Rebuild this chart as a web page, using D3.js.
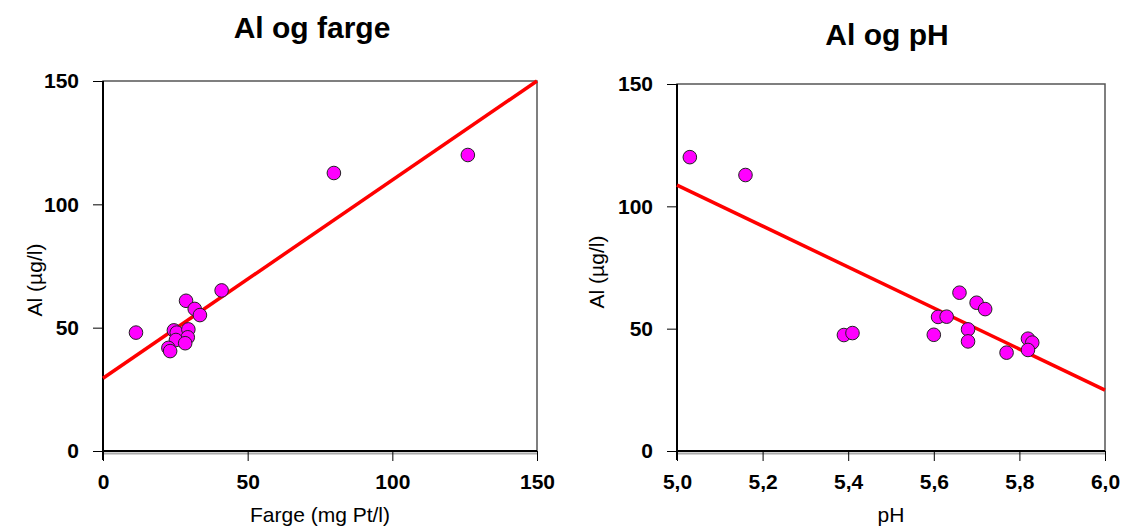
<!DOCTYPE html>
<html>
<head>
<meta charset="utf-8">
<script src="https://d3js.org/d3.v7.min.js"></script>
<style>
  body { margin: 0; background: #fff; }
  text { font-family: Arial, "Liberation Sans", sans-serif; }
</style>
</head>
<body>
<script>
  var width = 1124;
  var height = 527;

  // Al og farge
  var fargeX  = [11.4, 28.7, 31.7, 33.5, 41.0, 24.5, 25.5, 29.5, 29.3, 25.2, 28.4, 22.6, 23.2, 79.8, 126.1];
  var fargeAl = [48.0, 60.9, 57.6, 55.1, 65.1, 48.9, 48.0, 49.3, 46.1, 45.0, 43.7, 41.8, 40.5, 112.7, 120.0];
  var fargeFit = [29.5, 150];          // Al at farge = 0 and 150
  var fargeTicks = [0, 50, 100, 150];

  // Al og pH
  var phX  = [5.03, 5.16, 5.39, 5.41, 5.60, 5.61, 5.63, 5.66, 5.68, 5.68, 5.70, 5.72, 5.77, 5.82, 5.83, 5.82];
  var phAl = [120.1, 112.8, 47.4, 48.2, 47.5, 54.8, 54.9, 64.7, 49.7, 44.8, 60.6, 58.0, 40.2, 45.9, 44.3, 41.3];
  var phFit = [108.7, 24.9];           // Al at pH = 5.0 and 6.0
  var phTicks = [5.0, 5.2, 5.4, 5.6, 5.8, 6.0];

  var alTicks = [0, 50, 100, 150];

  var comma = d3.formatLocale({decimal: ",", thousands: " ", grouping: [3], currency: ["", ""]}).format(".1f");

  var svg = d3.select("body").append("svg")
      .attr("width", width)
      .attr("height", height);

  function panel(opt) {
    var x = d3.scaleLinear().domain(opt.xDomain).range([opt.left, opt.right]);
    var y = d3.scaleLinear().domain([0, 150]).range([opt.bottom, opt.top]);
    var g = svg.append("g");

    // frame
    g.append("rect")
        .attr("x", opt.left).attr("y", opt.top)
        .attr("width", opt.right - opt.left).attr("height", opt.bottom - opt.top)
        .style("fill", "none").style("stroke", "#555").style("stroke-width", 1.5);
    // bottom shadow
    g.append("line")
        .attr("x1", opt.left).attr("x2", opt.right)
        .attr("y1", opt.bottom + 2.5).attr("y2", opt.bottom + 2.5)
        .style("stroke", "#aaa").style("stroke-width", 2);

    var yAxis = g.append("g")
        .attr("transform", "translate(" + opt.left + ",0)")
        .call(d3.axisLeft(y).tickValues(alTicks).tickSize(10).tickPadding(14).tickFormat(d3.format("d")));
    var xAxis = g.append("g")
        .attr("transform", "translate(0," + opt.bottom + ")")
        .call(d3.axisBottom(x).tickValues(opt.xTicks).tickSize(10).tickPadding(13).tickFormat(opt.fmt));
    [yAxis, xAxis].forEach(function (a) {
      a.select(".domain").style("stroke", "#000").style("stroke-width", 2);
      a.selectAll(".tick line").style("stroke", "#000").style("stroke-width", 1);
      a.selectAll(".tick text")
          .style("font-family", "Arial, 'Liberation Sans', sans-serif")
          .style("font-size", "21px").style("font-weight", "bold").style("fill", "#000");
    });
    xAxis.select(".domain").attr("d", "M" + opt.left + ",0H" + opt.right);
    yAxis.select(".domain").attr("d", "M0," + (opt.bottom + 9) + "V" + opt.top);

    // fit line
    g.append("line")
        .attr("x1", x(opt.xDomain[0])).attr("y1", y(opt.fit[0]))
        .attr("x2", x(opt.xDomain[1])).attr("y2", y(opt.fit[1]))
        .style("stroke", "#ff0000").style("stroke-width", 3.5);

    g.selectAll(".point")
        .data(opt.xs)
        .enter().append("circle")
        .attr("class", "point")
        .attr("r", 6.8)
        .attr("cx", function (d) { return x(d); })
        .attr("cy", function (d, i) { return y(opt.ys[i]); })
        .style("fill", "#ff00ff")
        .style("stroke", "#222")
        .style("stroke-width", 1);

    g.append("text")
        .attr("x", opt.titleX).attr("y", opt.titleY)
        .attr("text-anchor", "middle")
        .style("font-size", "30px").style("font-weight", "bold")
        .text(opt.title);
    g.append("text")
        .attr("x", (opt.left + opt.right) / 2).attr("y", 522)
        .attr("text-anchor", "middle")
        .style("font-size", "21px")
        .text(opt.xLabel);
    g.append("text")
        .attr("transform", "translate(" + opt.yLabelX + "," + opt.yLabelY + ") rotate(-90)")
        .attr("text-anchor", "middle")
        .style("font-size", "21px")
        .text("Al (µg/l)");
  }

  panel({
    left: 103, right: 537, top: 81, bottom: 451,
    xDomain: [0, 150], xTicks: fargeTicks, fmt: d3.format("d"),
    xs: fargeX, ys: fargeAl, fit: fargeFit,
    title: "Al og farge", titleX: 312, titleY: 38,
    xLabel: "Farge (mg Pt/l)", yLabelX: 42, yLabelY: 280
  });

  panel({
    left: 677, right: 1105, top: 84, bottom: 451,
    xDomain: [5.0, 6.0], xTicks: phTicks, fmt: comma,
    xs: phX, ys: phAl, fit: phFit,
    title: "Al og pH", titleX: 887, titleY: 45,
    xLabel: "pH", yLabelX: 604, yLabelY: 272
  });
</script>
</body>
</html>
